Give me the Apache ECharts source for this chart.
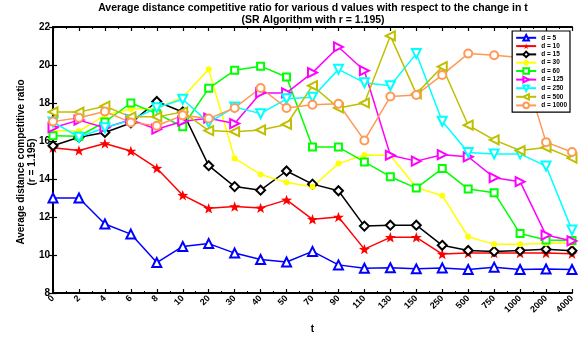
<!DOCTYPE html>
<html>
<head>
<meta charset="utf-8">
<script src="https://cdn.jsdelivr.net/npm/echarts@6/dist/echarts.min.js"></script>
<style>
  html, body { margin: 0; padding: 0; background: #fff; }
  #chart { width: 588px; height: 339px; }
</style>
</head>
<body>
<div id="chart"></div>
<script>
// t values along the horizontal axis
const tLabels = ['0','2','4','6','8','10','20','30','40','50','70','90','110','130','150','250','500','750','1000','2000','4000'];

// average distance competitive ratio for each d
const d5    = [13.0, 13.0, 11.63, 11.1, 9.6, 10.45, 10.6, 10.1, 9.76, 9.63, 10.19, 9.48, 9.3, 9.33, 9.27, 9.32, 9.24, 9.36, 9.24, 9.26, 9.24];
const d10   = [15.65, 15.5, 15.87, 15.47, 14.57, 13.15, 12.46, 12.55, 12.48, 12.9, 11.88, 12.0, 10.31, 10.93, 10.93, 10.05, 10.1, 10.1, 10.1, 10.1, 10.07];
const d15   = [15.75, 16.2, 16.45, 16.95, 18.08, 17.53, 14.7, 13.6, 13.41, 14.42, 13.73, 13.38, 11.52, 11.57, 11.57, 10.51, 10.24, 10.19, 10.24, 10.3, 10.22];
const d30   = [16.55, 16.52, 17.35, 17.68, 17.72, 18.3, 19.77, 15.08, 14.24, 13.81, 13.59, 14.81, 15.26, 15.25, 13.55, 13.12, 10.96, 10.56, 10.56, 10.62, 10.62];
const d60   = [16.28, 16.25, 17.0, 18.0, 17.44, 16.75, 18.77, 19.72, 19.94, 19.37, 15.68, 15.68, 14.9, 14.12, 13.52, 14.55, 13.47, 13.28, 11.13, 10.79, 10.76];
const d125  = [16.7, 17.1, 16.7, 17.12, 16.62, 17.04, 17.2, 16.92, 18.53, 18.53, 19.6, 20.95, 19.7, 15.25, 14.94, 15.28, 15.17, 14.07, 13.86, 11.05, 10.74];
const d250  = [17.0, 16.2, 16.7, 17.1, 17.75, 18.2, 16.97, 17.79, 17.44, 18.22, 18.3, 19.77, 19.07, 18.91, 20.6, 17.04, 15.4, 15.32, 15.32, 14.68, 11.31];
const d500  = [17.53, 17.52, 17.83, 17.27, 17.27, 17.53, 16.55, 16.49, 16.58, 16.87, 18.91, 17.74, 18.0, 21.53, 18.48, 19.91, 16.83, 16.06, 15.5, 15.66, 15.1];
const d1000 = [17.02, 17.22, 17.55, 16.98, 16.8, 17.35, 17.18, 17.74, 18.79, 17.74, 17.91, 17.96, 16.03, 18.34, 18.42, 19.48, 20.6, 20.51, 20.4, 15.94, 15.42];

const yTicks = [8, 10, 12, 14, 16, 18, 20, 22];

const STAR = 'path://M0,-10 L2.35,-3.24 L9.51,-3.09 L3.8,1.24 L5.88,8.09 L0,4 L-5.88,8.09 L-3.8,1.24 L-9.51,-3.09 L-2.35,-3.24 Z';

const seriesDefs = [
  { name: 'd = 5',    data: d5,    color: '#0000ff', symbol: 'emptyTriangle', rot: 0,   size: 9 },
  { name: 'd = 10',   data: d10,   color: '#ff0000', symbol: STAR,            rot: 0,   size: 11 },
  { name: 'd = 15',   data: d15,   color: '#000000', symbol: 'emptyDiamond',  rot: 0,   size: 9 },
  { name: 'd = 30',   data: d30,   color: '#ffff00', symbol: 'circle',        rot: 0,   size: 6 },
  { name: 'd = 60',   data: d60,   color: '#00ff00', symbol: 'emptyRect',     rot: 0,   size: 7 },
  { name: 'd = 125',  data: d125,  color: '#ff00ff', symbol: 'emptyTriangle', rot: -90, size: 9 },
  { name: 'd = 250',  data: d250,  color: '#00ffff', symbol: 'emptyTriangle', rot: 180, size: 9 },
  { name: 'd = 500',  data: d500,  color: '#bfbf00', symbol: 'emptyTriangle', rot: 90,  size: 9 },
  { name: 'd = 1000', data: d1000, color: '#ff9955', symbol: 'emptyCircle',   rot: 0,   size: 8 }
];

const FONT = 'Liberation Sans, Arial, sans-serif';

const chart = echarts.init(document.getElementById('chart'), null, { renderer: 'canvas' });

const axisLine = { show: true, lineStyle: { color: '#000', width: 2 } };
const nameStyle = { fontFamily: FONT, fontWeight: 'bold', fontSize: 10, fill: '#000', textAlign: 'center', textVerticalAlign: 'middle' };

chart.setOption({
  animation: false,
  backgroundColor: '#fff',
  title: {
    text: 'Average distance competitive ratio for various d values with respect to the change in t\n(SR Algorithm with r = 1.195)',
    left: 313, top: 2, padding: 0, textAlign: 'center',
    textStyle: { fontFamily: FONT, fontWeight: 'bold', fontSize: 10.5, color: '#000', lineHeight: 12 }
  },
  // vertical axis title, two rotated lines
  graphic: [
    { type: 'text', x: 21, y: 162, rotation: Math.PI / 2, style: Object.assign({ text: 'Average distance competitive ratio' }, nameStyle) },
    { type: 'text', x: 32, y: 162, rotation: Math.PI / 2, style: Object.assign({ text: '(r = 1.195)' }, nameStyle) }
  ],
  legend: {
    orient: 'vertical',
    right: 18, top: 31,
    itemWidth: 20, itemHeight: 7, itemGap: 1,
    padding: [3, 3, 3, 3],
    backgroundColor: '#fff',
    borderColor: '#000', borderWidth: 1.2,
    textStyle: { fontFamily: FONT, fontWeight: 'bold', fontSize: 6.5, color: '#000', lineHeight: 7 },
    data: seriesDefs.map(s => s.name)
  },
  grid: { left: 53, right: 16, top: 27, bottom: 42, containLabel: false },
  xAxis: [
    {
      type: 'value', min: 0, max: tLabels.length - 1, interval: 1,
      name: 't', nameLocation: 'middle', nameGap: 31,
      nameTextStyle: { fontFamily: FONT, fontWeight: 'bold', fontSize: 10, color: '#000' },
      axisLine: axisLine,
      axisTick: { show: true, inside: true, length: 4, lineStyle: { color: '#000', width: 1.2 } },
      minorTick: { show: true, splitNumber: 2, length: 2, lineStyle: { color: '#000', width: 1 } },
      splitLine: { show: false },
      axisLabel: {
        rotate: 45, margin: 4,
        fontFamily: FONT, fontWeight: 'bold', fontSize: 9, color: '#000',
        formatter: v => tLabels[v]
      }
    },
    {
      type: 'value', position: 'top', min: 0, max: tLabels.length - 1, interval: 1,
      axisLine: axisLine,
      axisTick: { show: true, inside: true, length: 4, lineStyle: { color: '#000', width: 1.2 } },
      minorTick: { show: true, splitNumber: 2, length: 2, lineStyle: { color: '#000', width: 1 } },
      splitLine: { show: false },
      axisLabel: { show: false }
    }
  ],
  yAxis: [
    {
      type: 'value', min: yTicks[0], max: yTicks[yTicks.length - 1], interval: 2,
      axisLine: axisLine,
      axisTick: { show: true, inside: true, length: 4, lineStyle: { color: '#000', width: 1.2 } },
      splitLine: { show: false },
      axisLabel: { margin: 3, fontFamily: FONT, fontWeight: 'bold', fontSize: 10, color: '#000' }
    },
    {
      type: 'value', position: 'right', min: yTicks[0], max: yTicks[yTicks.length - 1], interval: 2,
      axisLine: axisLine,
      axisTick: { show: true, inside: true, length: 4, lineStyle: { color: '#000', width: 1.2 } },
      splitLine: { show: false },
      axisLabel: { show: false }
    }
  ],
  series: seriesDefs.map(s => ({
    name: s.name,
    type: 'line',
    xAxisIndex: 0, yAxisIndex: 0,
    data: s.data.map((v, i) => [i, v]),
    symbol: s.symbol,
    symbolSize: s.size,
    symbolRotate: s.rot,
    symbolKeepAspect: true,
    showAllSymbol: true,
    color: s.color,
    lineStyle: { color: s.color, width: 1.5 },
    itemStyle: { color: s.color, borderWidth: 1.3 }
  }))
});
</script>
</body>
</html>
